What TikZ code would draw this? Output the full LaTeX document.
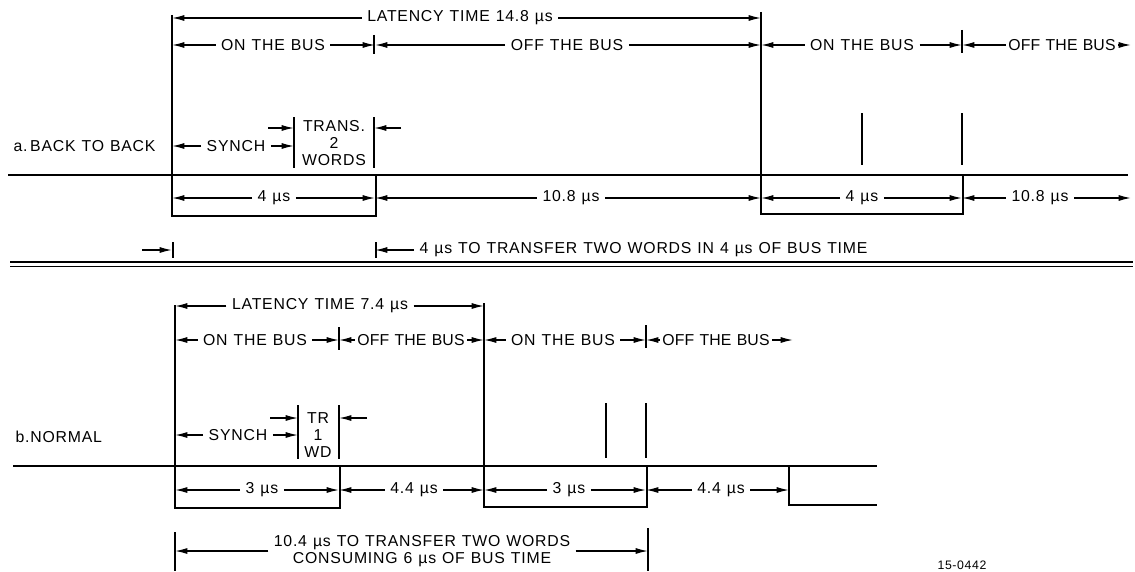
\documentclass[tikz,border=0pt]{standalone}
\usepackage{fontspec}
\setmainfont{Liberation Sans}[LetterSpace=5, WordSpace=1.15]
\usetikzlibrary{arrows.meta}

\begin{document}
\begin{tikzpicture}[
    x=0.02cm, y=-0.02cm,
    sig/.style={line width=1.3pt},
    dim/.style={-{Latex[length=7pt,width=3.4pt]}, line width=0.75pt},
    bar/.style={line width=0.7pt},
    lbl/.style={font=\fontsize{9}{9.5}\selectfont, inner sep=3pt},
    tight/.style={inner xsep=1.2pt, font=\fontsize{9}{9.5}\selectfont\addfontfeature{LetterSpace=1}}
]
    \useasboundingbox (0,0) rectangle (1135,571);

    % Time marks
    \coordinate (a0) at (172,0);
    \coordinate (a1) at (375,0);
    \coordinate (a2) at (761,0);
    \coordinate (a3) at (962,0);
    \coordinate (a4) at (1131,0);
    \coordinate (b0) at (175,0);
    \coordinate (b1) at (339,0);
    \coordinate (b2) at (484,0);
    \coordinate (b3) at (646,0);
    \coordinate (b4) at (789,0);
    \coordinate (b5) at (793,0);

    % a. back to back: signal
    \draw[sig] (8,175) -- (1128,175);
    \draw[sig] (172,15) -- (172,216) -- (376,216) -- (376,175);
    \draw[sig] (761,12) -- (761,214) -- (963,214) -- (963,175);
    \draw[bar] (862,113) -- (862,165);
    \draw[bar] (962,113) -- (962,165);
    \node[lbl, anchor=west] (backA) at (8,146) {a.\,BACK TO BACK};

    % a. upper rows
    \node[lbl] (latA) at (460,18) {LATENCY TIME 14.8 µs};
    \draw[dim] (latA) -- (latA -| a0);
    \draw[dim] (latA) -- (latA -| a2);
    \node[lbl] (onA1) at (273,45) {ON THE BUS};
    \draw[dim] (onA1) -- (onA1 -| a0);
    \draw[dim] (onA1) -- (onA1 -| a1);
    \node[lbl] (offA1) at (567,45) {OFF THE BUS};
    \draw[dim] (offA1) -- (offA1 -| a1);
    \draw[dim] (offA1) -- (offA1 -| a2);
    \node[lbl] (onA2) at (862,45) {ON THE BUS};
    \draw[dim] (onA2) -- (onA2 -| a2);
    \draw[dim] (onA2) -- (onA2 -| a3);
    \node[lbl, tight] (offA2) at (1062,45) {OFF THE BUS};
    \draw[dim] (offA2) -- (offA2 -| a3);
    \draw[dim] (offA2) -- (offA2 -| a4);
    \draw[bar] (374,35) -- (374,54);
    \draw[bar] (962,30) -- (962,53);

    % a. synch and transfer
    \node[lbl] (synchA) at (236,146) {SYNCH};
    \coordinate (trA0) at (294,146);
    \draw[dim] (synchA) -- (synchA -| a0);
    \draw[dim] (synchA) -- (trA0);
    \node[lbl, align=center] (transA) at (334,143) {TRANS.\\2\\WORDS};
    \draw[bar] (294,117) -- (294,168);
    \draw[bar] (374,117) -- (374,168);
    \coordinate (trA1) at (268,128);
    \coordinate (trA2) at (294,128);
    \coordinate (trA3) at (401,128);
    \coordinate (trA4) at (374,128);
    \draw[dim] (trA1) -- (trA2);
    \draw[dim] (trA3) -- (trA4);

    % a. durations
    \node[lbl] (fourA1) at (274,198) {4 µs};
    \draw[dim] (fourA1) -- (fourA1 -| a0);
    \draw[dim] (fourA1) -- (fourA1 -| a1);
    \node[lbl] (tenA1) at (571,198) {10.8 µs};
    \draw[dim] (tenA1) -- (tenA1 -| a1);
    \draw[dim] (tenA1) -- (tenA1 -| a2);
    \node[lbl] (fourA2) at (862,198) {4 µs};
    \draw[dim] (fourA2) -- (fourA2 -| a2);
    \draw[dim] (fourA2) -- (fourA2 -| a3);
    \node[lbl] (tenA2) at (1040,198) {10.8 µs};
    \draw[dim] (tenA2) -- (tenA2 -| a3);
    \draw[dim] (tenA2) -- (tenA2 -| a4);

    % a. summary
    \coordinate (sumA0) at (142,250);
    \coordinate (sumA1) at (172,250);
    \draw[dim] (sumA0) -- (sumA1);
    \draw[bar] (173,242) -- (173,258);
    \draw[bar] (376,242) -- (376,258);
    \node[lbl, anchor=west] (sumA) at (414,250) {4 µs TO TRANSFER TWO WORDS IN 4 µs OF BUS TIME};
    \draw[dim] (sumA) -- (sumA -| a1);

    % Divider
    \draw[line width=1.1pt] (10,262) -- (1133,262);
    \draw[line width=0.8pt] (10,266.5) -- (1133,266.5);

    % b. normal: signal
    \draw[sig] (13,466) -- (877,466);
    \draw[sig] (175,305) -- (175,508) -- (340,508) -- (340,466);
    \draw[sig] (484,303) -- (484,507) -- (647,507) -- (647,466);
    \draw[sig] (789,466) -- (789,505) -- (877,505);
    \draw[bar] (606,403) -- (606,458);
    \draw[bar] (646,403) -- (646,458);
    \node[lbl, anchor=west] (normB) at (10,437) {b.NORMAL};

    % b. upper rows
    \node[lbl] (latB) at (320,306) {LATENCY TIME 7.4 µs};
    \draw[dim] (latB) -- (latB -| b0);
    \draw[dim] (latB) -- (latB -| b2);
    \node[lbl] (onB1) at (255,340) {ON THE BUS};
    \draw[dim] (onB1) -- (onB1 -| b0);
    \draw[dim] (onB1) -- (onB1 -| b1);
    \node[lbl, tight] (offB1) at (411,340) {OFF THE BUS};
    \draw[dim] (offB1) -- (offB1 -| b1);
    \draw[dim] (offB1) -- (offB1 -| b2);
    \node[lbl] (onB2) at (563,340) {ON THE BUS};
    \draw[dim] (onB2) -- (onB2 -| b2);
    \draw[dim] (onB2) -- (onB2 -| b3);
    \node[lbl, tight] (offB2) at (716,340) {OFF THE BUS};
    \draw[dim] (offB2) -- (offB2 -| b3);
    \draw[dim] (offB2) -- (offB2 -| b5);
    \draw[bar] (339,327) -- (339,350);
    \draw[bar] (646,325) -- (646,348);

    % b. synch and transfer
    \node[lbl] (synchB) at (238,435) {SYNCH};
    \coordinate (trB0) at (298,435);
    \draw[dim] (synchB) -- (synchB -| b0);
    \draw[dim] (synchB) -- (trB0);
    \node[lbl, align=center] (trB) at (318,435) {TR\\1\\WD};
    \draw[bar] (298,405) -- (298,459);
    \draw[bar] (339,405) -- (339,459);
    \coordinate (trB1) at (270,418);
    \coordinate (trB2) at (298,418);
    \coordinate (trB3) at (367,418);
    \coordinate (trB4) at (339,418);
    \draw[dim] (trB1) -- (trB2);
    \draw[dim] (trB3) -- (trB4);

    % b. durations
    \node[lbl] (threeB1) at (262,490) {3 µs};
    \draw[dim] (threeB1) -- (threeB1 -| b0);
    \draw[dim] (threeB1) -- (threeB1 -| b1);
    \node[lbl] (fourB1) at (414,490) {4.4 µs};
    \draw[dim] (fourB1) -- (fourB1 -| b1);
    \draw[dim] (fourB1) -- (fourB1 -| b2);
    \node[lbl] (threeB2) at (569,490) {3 µs};
    \draw[dim] (threeB2) -- (threeB2 -| b2);
    \draw[dim] (threeB2) -- (threeB2 -| b3);
    \node[lbl] (fourB2) at (721,490) {4.4 µs};
    \draw[dim] (fourB2) -- (fourB2 -| b3);
    \draw[dim] (fourB2) -- (fourB2 -| b4);

    % b. summary
    \coordinate (sumB0) at (175,0);
    \coordinate (sumB1) at (648,0);
    \draw[bar] (175,532) -- (175,571);
    \draw[bar] (648,528) -- (648,571);
    \node[lbl, align=center] (sumB) at (422,551) {10.4 µs TO TRANSFER TWO WORDS\\CONSUMING 6 µs OF BUS TIME};
    \draw[dim] (sumB) -- (sumB -| sumB0);
    \draw[dim] (sumB) -- (sumB -| sumB1);

    \node[font=\fontsize{7}{8}\selectfont, inner sep=0pt] (figno) at (962,565) {15-0442};
\end{tikzpicture}
\end{document}
